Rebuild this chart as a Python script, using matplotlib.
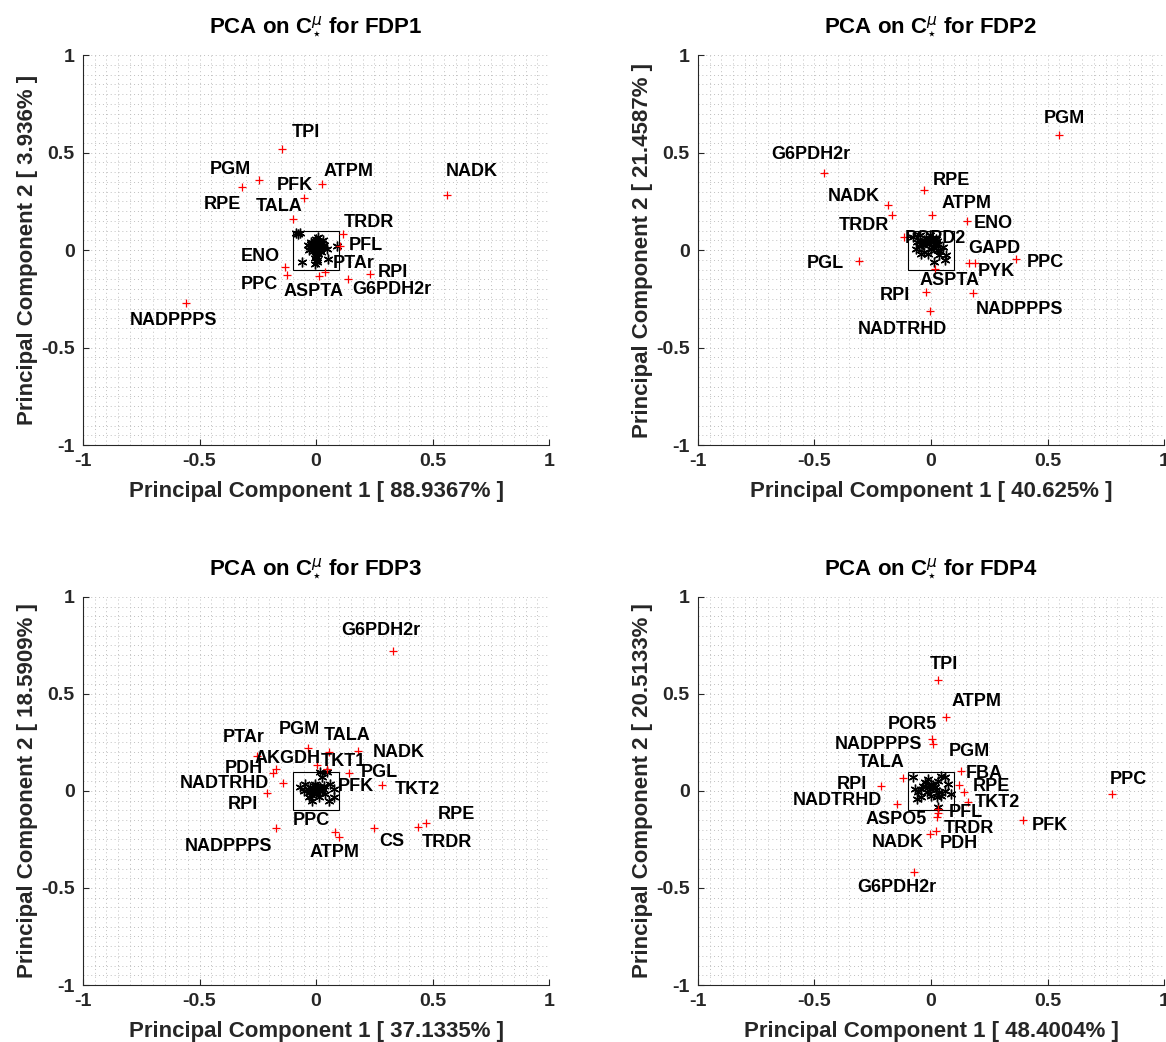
"""
PCA loadings/scores for the four FDP cases, drawn MATLAB-style in a 2x2 grid.
"""

import matplotlib

matplotlib.use("Agg")
import matplotlib.pyplot as plt
from matplotlib.patches import Rectangle
from matplotlib.ticker import FixedLocator, MultipleLocator

# ---------------------------------------------------------------- FDP1
FDP1_NAMES = ["TPI", "PGM", "RPE", "ATPM", "PFK", "TALA", "TRDR", "PFL",
              "PTAr", "ASPTA", "ENO", "PPC", "G6PDH2r", "RPI", "NADPPPS", "NADK"]
FDP1_PC1 = [-0.145, -0.245, -0.319, 0.024, -0.050, -0.097, 0.115, 0.104,
            0.040, 0.012, -0.133, -0.126, 0.139, 0.232, -0.559, 0.564]
FDP1_PC2 = [0.516, 0.357, 0.325, 0.338, 0.265, 0.157, 0.082, 0.021,
            -0.114, -0.135, -0.086, -0.130, -0.147, -0.122, -0.272, 0.282]
FDP1_SCORE1 = [-0.085, -0.070, -0.076, 0.090, -0.060, -0.005, 0.005, 0.050, 0.010,
               -0.005, 0.045, 0.030, -0.020, -0.010, 0.000, 0.010, 0.020, -0.015,
               0.005, 0.015, -0.005, 0.000, -0.025, 0.025, 0.030, -0.030, 0.000,
               0.010, -0.010, 0.020, -0.020, 0.005, 0.035, -0.035, 0.000, 0.005,
               -0.012, 0.012, -0.002, 0.018, -0.018, 0.008]
FDP1_SCORE2 = [0.085, 0.085, 0.083, 0.020, -0.062, -0.070, -0.060, -0.045, 0.067,
               -0.040, 0.005, 0.050, 0.030, 0.020, 0.025, 0.030, 0.020, 0.010,
               0.005, 0.000, 0.045, 0.055, 0.015, 0.035, 0.010, 0.000, -0.010,
               -0.020, -0.005, -0.010, 0.040, 0.040, 0.025, 0.025, -0.030, -0.050,
               0.028, 0.012, 0.015, 0.028, 0.022, 0.018]
FDP1_VAR = (88.9367, 3.936)
FDP1_OFFSETS = [(24, 17), (-29, 11), (-19, -18), (27, 13), (-10, 13), (-14, 13),
                (26, 12), (26, 0), (28, 9), (-5, -15), (-25, 10), (-27, -9),
                (43, -11), (23, 1), (-12, -17), (24, 24)]

# ---------------------------------------------------------------- FDP2
FDP2_NAMES = ["PGM", "G6PDH2r", "RPE", "NADK", "ATPM", "TRDR", "ENO", "PGPD2",
              "GAPD", "PYK", "PPC", "ASPTA", "PGL", "RPI", "NADPPPS", "NADTRHD"]
FDP2_PC1 = [0.549, -0.460, -0.032, -0.185, 0.004, -0.168, 0.154, -0.117,
            0.190, 0.161, 0.366, 0.019, -0.311, -0.021, 0.182, -0.006]
FDP2_PC2 = [0.590, 0.397, 0.308, 0.231, 0.179, 0.179, 0.150, 0.068,
            -0.065, -0.068, -0.044, -0.099, -0.055, -0.215, -0.219, -0.311]
FDP2_SCORE1 = [-0.078, -0.049, -0.006, 0.022, -0.035, 0.008, 0.051, 0.036, -0.014,
               -0.064, 0.058, 0.015, 0.065, 0.001, -0.028, 0.029, -0.042, -0.060,
               -0.020, 0.010, -0.050, 0.030, -0.010, 0.000, 0.040, -0.030, 0.020,
               -0.015, 0.005, 0.015, -0.040, 0.025]
FDP2_SCORE2 = [0.067, 0.075, 0.075, 0.058, 0.024, 0.015, 0.015, -0.027, -0.019,
               0.007, -0.053, -0.062, -0.027, 0.041, 0.050, 0.032, -0.019, 0.040,
               0.060, 0.050, 0.020, 0.000, 0.030, 0.005, -0.005, -0.010, 0.025,
               0.045, 0.060, 0.010, 0.030, 0.045]
FDP2_VAR = (40.625, 21.4587)
FDP2_OFFSETS = [(5, 16), (-13, 18), (28, 9), (-34, 8), (35, 12), (-28, -10),
                (26, -3), (32, -2), (19, 14), (28, -8), (29, -4), (14, -11),
                (-33, -3), (-31, -4), (46, -17), (-27, -19)]

# ---------------------------------------------------------------- FDP3
FDP3_NAMES = ["G6PDH2r", "PTAr", "PGM", "TALA", "NADK", "TKT1", "PFK", "AKGDH",
              "PDH", "NADTRHD", "RPI", "PGL", "TKT2", "RPE", "TRDR", "CS",
              "ATPM", "PPC", "NADPPPS"]
FDP3_PC1 = [0.332, -0.255, -0.034, 0.057, 0.179, 0.003, 0.048, -0.172,
            -0.183, -0.143, -0.212, 0.143, 0.283, 0.472, 0.439, 0.249,
            0.100, 0.083, -0.172]
FDP3_PC2 = [0.723, 0.180, 0.220, 0.203, 0.206, 0.134, 0.112, 0.112,
            0.094, 0.040, -0.009, 0.094, 0.031, -0.166, -0.187, -0.192,
            -0.236, -0.210, -0.192]
FDP3_SCORE1 = [0.019, 0.047, -0.067, -0.046, -0.024, 0.004, 0.033, 0.061, 0.019,
               -0.010, -0.031, -0.017, 0.012, 0.040, 0.076, 0.076, 0.055, 0.026,
               -0.053, -0.003, -0.015, 0.010, 0.025, -0.035, 0.000, -0.020,
               -0.005, 0.015, -0.025, 0.030]
FDP3_SCORE2 = [0.096, 0.096, 0.019, 0.036, 0.019, 0.019, 0.027, 0.036, 0.002,
               -0.007, -0.032, -0.050, -0.032, -0.015, 0.010, -0.032, -0.050, 0.071,
               0.002, 0.036, 0.005, 0.010, 0.000, 0.008, -0.015, -0.020,
               0.025, 0.020, -0.005, 0.010]
FDP3_VAR = (37.1335, 18.5909)
FDP3_OFFSETS = [(-13, 20), (-13, 19), (-9, 19), (18, 16), (41, -1), (27, 3),
                (29, -17), (12, 11), (-30, 4), (-58, 0), (-24, -12), (30, 0),
                (35, -5), (30, 9), (29, -15), (18, -13), (-5, -16), (-24, 11),
                (-47, -18)]

# ---------------------------------------------------------------- FDP4
FDP4_NAMES = ["TPI", "ATPM", "POR5", "NADPPPS", "PGM", "FBA", "RPE", "TKT2",
              "PFL", "ASPO5", "TRDR", "PDH", "NADK", "TALA", "RPI", "NADTRHD",
              "PFK", "PPC", "G6PDH2r"]
FDP4_PC1 = [0.032, 0.065, 0.005, 0.008, 0.130, 0.122, 0.141, 0.158,
            0.029, 0.028, 0.027, 0.020, -0.006, -0.118, -0.214, -0.147,
            0.394, 0.777, -0.074]
FDP4_PC2 = [0.572, 0.383, 0.270, 0.242, 0.105, 0.031, -0.005, -0.055,
            -0.095, -0.112, -0.132, -0.204, -0.222, 0.066, 0.027, -0.069,
            -0.147, -0.018, -0.415]
FDP4_SCORE1 = [-0.076, -0.069, -0.062, -0.055, -0.027, -0.012, 0.002, 0.016, -0.019,
               0.002, 0.029, 0.058, 0.044, 0.072, 0.058, 0.086, -0.041, 0.024,
               0.045, -0.036, -0.005, 0.029, -0.043, 0.010, -0.010, 0.020, 0.035]
FDP4_SCORE2 = [0.071, 0.010, -0.041, -0.007, 0.045, 0.062, 0.036, 0.019, -0.007,
               -0.024, 0.053, 0.071, 0.079, 0.036, 0.002, -0.015, -0.032, -0.032,
               -0.024, 0.027, 0.010, -0.084, 0.010, 0.030, 0.020, 0.005, -0.005]
FDP4_VAR = (48.4004, 20.5133)
FDP4_OFFSETS = [(5, 16), (30, 15), (-20, 14), (-54, 0), (8, 19), (25, 11),
                (28, 5), (30, -1), (28, -3), (-41, -7), (32, -12), (23, -13),
                (-32, -8), (-22, 16), (-29, 1), (-59, 4), (27, -6), (16, 15),
                (-17, -16)]

TICKS = [-1, -0.5, 0, 0.5, 1]
TICK_LABELS = ["-1", "-0.5", "0", "0.5", "1"]

# axes rectangles in figure fractions (left, bottom, width, height)
AX_RECTS = [
    (0.0712, 0.5729, 0.3997, 0.3743),
    (0.5986, 0.5729, 0.3997, 0.3743),
    (0.0712, 0.0547, 0.3997, 0.3724),
    (0.5986, 0.0547, 0.3997, 0.3724),
]

FONT = "Liberation Sans"
AXIS_COLOR = "#262626"


def draw_panel(ax, title, names, pc1, pc2, score1, score2, var, offsets):
    """One PCA panel: red loadings with labels, black scores and the zoom box."""
    ax.set_xlim(-1, 1)
    ax.set_ylim(-1, 1)

    ax.xaxis.set_major_locator(FixedLocator(TICKS))
    ax.yaxis.set_major_locator(FixedLocator(TICKS))
    ax.set_xticklabels(TICK_LABELS)
    ax.set_yticklabels(TICK_LABELS)
    ax.xaxis.set_minor_locator(MultipleLocator(0.05))
    ax.yaxis.set_minor_locator(MultipleLocator(0.05))
    ax.grid(which="both", linestyle=(0, (1, 3)), color="#c0c0c0", linewidth=0.7)
    ax.set_axisbelow(True)

    for side in ("top", "right"):
        ax.spines[side].set_visible(False)
    for side in ("left", "bottom"):
        ax.spines[side].set_color(AXIS_COLOR)
        ax.spines[side].set_linewidth(0.8)
    ax.tick_params(which="major", direction="in", length=4, width=0.8,
                   color=AXIS_COLOR, labelsize=14, pad=6)
    ax.tick_params(which="minor", length=0)
    for lab in ax.get_xticklabels() + ax.get_yticklabels():
        lab.set_fontweight("bold")
        lab.set_color(AXIS_COLOR)

    ax.plot(score1, score2, linestyle="none", marker=(6, 2, 0), markersize=7,
            markeredgewidth=1.0, color="black", zorder=3)
    ax.add_patch(Rectangle((-0.1, -0.1), 0.2, 0.2, fill=False,
                           edgecolor="black", linewidth=0.8, zorder=4))
    ax.plot(pc1, pc2, linestyle="none", marker="+", markersize=6,
            markeredgewidth=0.9, color="red", zorder=5)

    for name, x, y, off in zip(names, pc1, pc2, offsets):
        ax.annotate(name, (x, y), xytext=off, textcoords="offset pixels",
                    ha="center", va="center", fontsize=13, fontweight="bold",
                    color="black", zorder=6)

    ax.set_title(title, fontsize=16, fontweight="bold", pad=17)
    ax.set_xlabel(f"Principal Component 1 [ {var[0]}% ]", fontsize=16,
                  fontweight="bold", color=AXIS_COLOR, labelpad=8)
    ax.set_ylabel(f"Principal Component 2 [ {var[1]}% ]", fontsize=16,
                  fontweight="bold", color=AXIS_COLOR, labelpad=2)


def main() -> None:
    plt.rcParams["font.family"] = [FONT, "DejaVu Sans"]
    plt.rcParams["axes.unicode_minus"] = False
    plt.rcParams["mathtext.fontset"] = "dejavusans"

    fig = plt.figure(figsize=(11.66, 10.42), dpi=100)

    panels = [
        ("FDP1", FDP1_NAMES, FDP1_PC1, FDP1_PC2, FDP1_SCORE1, FDP1_SCORE2, FDP1_VAR, FDP1_OFFSETS),
        ("FDP2", FDP2_NAMES, FDP2_PC1, FDP2_PC2, FDP2_SCORE1, FDP2_SCORE2, FDP2_VAR, FDP2_OFFSETS),
        ("FDP3", FDP3_NAMES, FDP3_PC1, FDP3_PC2, FDP3_SCORE1, FDP3_SCORE2, FDP3_VAR, FDP3_OFFSETS),
        ("FDP4", FDP4_NAMES, FDP4_PC1, FDP4_PC2, FDP4_SCORE1, FDP4_SCORE2, FDP4_VAR, FDP4_OFFSETS),
    ]
    for rect, (tag, *rest) in zip(AX_RECTS, panels):
        ax = fig.add_axes(rect)
        title = r"PCA on C$_{\star}^{\mu}$ for " + tag
        draw_panel(ax, title, *rest)

    fig.savefig("out.png", dpi=100)
    plt.close(fig)


if __name__ == "__main__":
    main()
